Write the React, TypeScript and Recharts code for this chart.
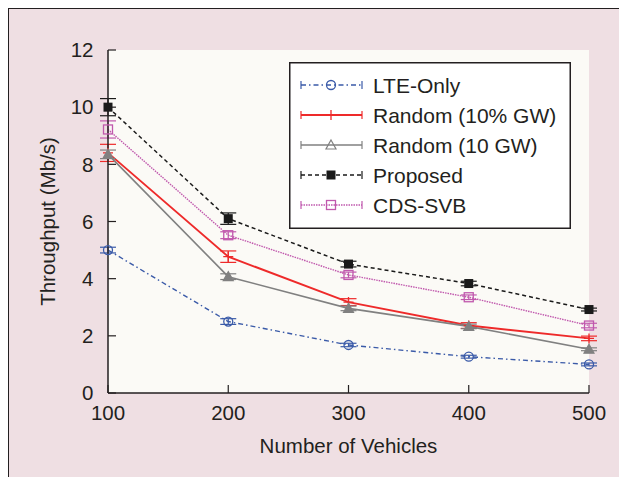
import {
  LineChart,
  Line,
  XAxis,
  YAxis,
  CartesianGrid,
  ErrorBar,
  Legend,
} from "recharts";

const vehicles = [100, 200, 300, 400, 500];
const yTicks = [0, 2, 4, 6, 8, 10, 12];

const lteOnly = [5.0, 2.5, 1.68, 1.27, 1.0];
const lteOnlyErr = [0.1, 0.1, 0.06, 0.05, 0.05];
const random10pct = [8.4, 4.77, 3.18, 2.36, 1.91];
const random10pctErr = [0.3, 0.2, 0.12, 0.1, 0.08];
const random10gw = [8.35, 4.07, 2.96, 2.33, 1.53];
const random10gwErr = [0.15, 0.1, 0.08, 0.08, 0.05];
const proposed = [10.0, 6.1, 4.51, 3.83, 2.92];
const proposedErr = [0.3, 0.2, 0.1, 0.08, 0.05];
const cdsSvb = [9.22, 5.52, 4.13, 3.35, 2.36];
const cdsSvbErr = [0.3, 0.12, 0.1, 0.08, 0.08];

const rows = vehicles.map((v, i) => ({
  vehicles: v,
  lte: lteOnly[i],
  lteErr: lteOnlyErr[i],
  r10pct: random10pct[i],
  r10pctErr: random10pctErr[i],
  r10gw: random10gw[i],
  r10gwErr: random10gwErr[i],
  prop: proposed[i],
  propErr: proposedErr[i],
  cds: cdsSvb[i],
  cdsErr: cdsSvbErr[i],
}));

const FONT = '"Liberation Sans", Arial, Helvetica, sans-serif';
const INK = "#231f20";
const PINK = "#efdfe3";
const BLUE = "#3a5aa8";
const RED = "#ee2a2a";
const GRAY = "#808080";
const BLACK = "#1a1a1a";
const MAGENTA = "#c058ad";

type MarkProps = { cx: number; cy: number; color: string };

const CircleMark = ({ cx, cy, color }: MarkProps) => (
  <circle cx={cx} cy={cy} r={4.5} fill="none" stroke={color} strokeWidth={1.3} />
);
const PlusMark = ({ cx, cy, color }: MarkProps) => (
  <path
    d={`M${cx - 5},${cy}H${cx + 5}M${cx},${cy - 5}V${cy + 5}`}
    stroke={color}
    strokeWidth={1.3}
  />
);
const TriMark = ({ cx, cy, color, open }: MarkProps & { open?: boolean }) => (
  <path
    d={`M${cx},${cy - 5}L${cx + 5},${cy + 4}L${cx - 5},${cy + 4}Z`}
    fill={open ? "none" : color}
    stroke={color}
    strokeWidth={1.2}
  />
);
const FilledSquare = ({ cx, cy, color }: MarkProps) => (
  <rect x={cx - 4.5} y={cy - 4.5} width={9} height={9} fill={color} />
);
const OpenSquare = ({ cx, cy, color }: MarkProps) => (
  <rect
    x={cx - 4.5}
    y={cy - 4.5}
    width={9}
    height={9}
    fill="none"
    stroke={color}
    strokeWidth={1.3}
  />
);

const series = [
  { key: "lte", name: "LTE-Only", color: BLUE, dash: "5 3 1.5 3", width: 1.4, Mark: CircleMark },
  { key: "r10pct", name: "Random (10% GW)", color: RED, dash: undefined, width: 1.9, Mark: PlusMark },
  { key: "r10gw", name: "Random (10 GW)", color: GRAY, dash: undefined, width: 1.6, Mark: TriMark },
  { key: "prop", name: "Proposed", color: BLACK, dash: "4 3", width: 1.5, Mark: FilledSquare },
  { key: "cds", name: "CDS-SVB", color: MAGENTA, dash: "1.5 1", width: 1.4, Mark: OpenSquare },
];

const noTick = () => <g />;

const LegendBox = () => (
  <svg width={282} height={167} style={{ display: "block" }}>
    <rect x={0.75} y={0.75} width={280.5} height={165.5} fill="#ffffff" stroke={INK} strokeWidth={1.5} />
    {series.map((s, i) => {
      const cy = 23 + i * 30;
      const Mark = s.Mark;
      return (
        <g key={s.key}>
          <line x1={12} x2={73} y1={cy} y2={cy} stroke={s.color} strokeWidth={s.width} strokeDasharray={s.dash} />
          <line x1={12} x2={12} y1={cy - 4} y2={cy + 4} stroke={s.color} strokeWidth={1.2} />
          <line x1={73} x2={73} y1={cy - 4} y2={cy + 4} stroke={s.color} strokeWidth={1.2} />
          {s.key === "r10gw" ? (
            <TriMark cx={42} cy={cy} color={s.color} open />
          ) : (
            <Mark cx={42} cy={cy} color={s.color} />
          )}
          <text x={84} y={cy + 7.5} fontSize={21} fill={INK} fontFamily={FONT}>
            {s.name}
          </text>
        </g>
      );
    })}
  </svg>
);

export default function App() {
  return (
    <div style={{ position: "relative", width: 619, height: 477, background: "#ffffff", overflow: "hidden" }}>
      <style>{`html, body { margin: 0; padding: 0; background: ${PINK}; }`}</style>
      <div
        style={{
          position: "absolute",
          left: 8,
          top: 8,
          width: 611,
          height: 469,
          background: PINK,
          boxShadow: `inset 1px 1px 0 ${INK}`,
          fontFamily: FONT,
        }}
      >
        <LineChart
          width={611}
          height={469}
          data={rows}
          margin={{ top: 42, right: 30, bottom: 24, left: 0 }}
        >
          <CartesianGrid fill="#fbfaf6" stroke="none" horizontal={false} vertical={false} />
          <XAxis
            dataKey="vehicles"
            type="number"
            domain={[100, 500]}
            ticks={vehicles}
            height={60}
            axisLine={{ stroke: INK, strokeWidth: 1.5 }}
            tickLine={{ stroke: INK, strokeWidth: 1.2 }}
            tickSize={-8}
            tickMargin={20}
            tick={{ fill: INK, fontSize: 20.5, fontFamily: FONT }}
            label={{
              value: "Number of Vehicles",
              position: "insideBottom",
              offset: 0,
              fill: INK,
              fontSize: 20.5,
              fontFamily: FONT,
            }}
          />
          <XAxis
            xAxisId="top"
            orientation="top"
            type="number"
            domain={[100, 500]}
            ticks={vehicles}
            height={0}
            axisLine={{ stroke: INK, strokeWidth: 1.5 }}
            tickLine={{ stroke: INK, strokeWidth: 1.2 }}
            tickSize={-8}
            tick={noTick}
          />
          <YAxis
            type="number"
            domain={[0, 12]}
            ticks={yTicks}
            width={100}
            axisLine={{ stroke: INK, strokeWidth: 1.5 }}
            tickLine={{ stroke: INK, strokeWidth: 1.2 }}
            tickSize={-8}
            tickMargin={22.5}
            tick={{ fill: INK, fontSize: 20.5, fontFamily: FONT }}
            label={{
              value: "Throughput (Mb/s)",
              angle: -90,
              position: "insideLeft",
              offset: 40,
              fill: INK,
              fontSize: 20.5,
              fontFamily: FONT,
              style: { textAnchor: "middle" },
            }}
          />
          <YAxis
            yAxisId="right"
            orientation="right"
            type="number"
            domain={[0, 12]}
            ticks={yTicks}
            width={0}
            axisLine={{ stroke: INK, strokeWidth: 1.5 }}
            tickLine={{ stroke: INK, strokeWidth: 1.2 }}
            tickSize={-8}
            tick={noTick}
          />
          {series.map((s) => {
            const Mark = s.Mark;
            return (
              <Line
                key={s.key}
                dataKey={s.key}
                name={s.name}
                stroke={s.color}
                strokeWidth={s.width}
                strokeDasharray={s.dash}
                isAnimationActive={false}
                dot={(p: any) => (
                  <Mark key={`${s.key}-${p.index}`} cx={p.cx} cy={p.cy} color={s.color} />
                )}
                activeDot={false}
              >
                <ErrorBar
                  dataKey={`${s.key}Err`}
                  width={8}
                  stroke={s.color}
                  strokeWidth={1.2}
                  direction="y"
                  isAnimationActive={false}
                />
              </Line>
            );
          })}
          <Legend
            layout="vertical"
            align="center"
            verticalAlign="middle"
            wrapperStyle={{ left: 281, top: 54, width: 282, height: 167 }}
            content={() => <LegendBox />}
          />
        </LineChart>
      </div>
    </div>
  );
}
